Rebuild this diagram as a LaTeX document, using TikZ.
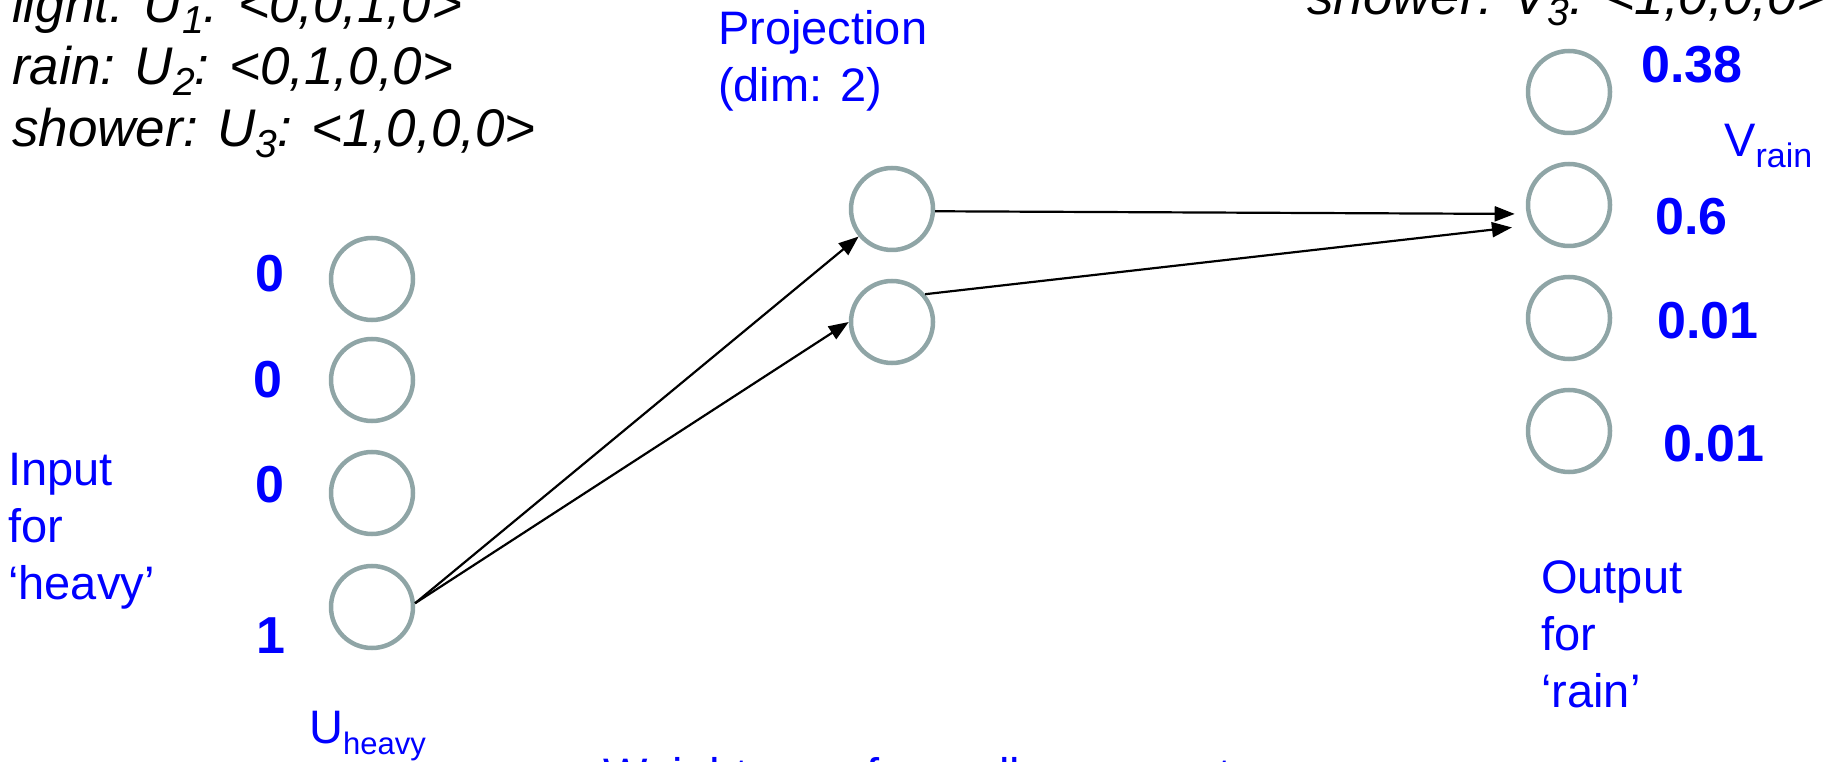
\documentclass[tikz,border=0pt]{standalone}
\usepackage{fontspec}
\setmainfont{Liberation Sans}
\usetikzlibrary{arrows.meta,positioning}
\definecolor{ringgray}{RGB}{143,165,166}
\definecolor{labelblue}{RGB}{0,0,255}
\newcommand{\subs}[2][34]{\raisebox{-11pt}{\fontsize{#1}{#1}\selectfont #2}}

\begin{document}
\begin{tikzpicture}[
    x=1pt, y=1pt,
    >={Triangle[length=20pt,width=15pt]},
    unit/.style={
      circle, draw=ringgray, line width=4.5pt, minimum size=82pt,
      inner sep=0pt
    },
    lbl/.style={text=labelblue, font=\fontsize{47}{57}\selectfont,
      align=left, inner sep=0pt},
    val/.style={text=labelblue, font=\fontsize{52}{60}\selectfont\bfseries,
      inner sep=0pt},
    vec/.style={font=\fontsize{53}{62}\selectfont\itshape, align=left,
      inner sep=0pt},
    arr/.style={->, line width=2.2pt},
    on grid, node distance=113pt
  ]
  \useasboundingbox (0,0) rectangle (1825,761);

  % input layer
  \node[unit] (i1) at (372,482) {};
  \node[unit, below=101pt of i1] (i2) {};
  \node[unit, below=of i2] (i3) {};
  \node[unit, below=114pt of i3] (i4) {};

  % projection layer
  \node[unit] (p1) at (892,552) {};
  \node[unit, below=of p1] (p2) {};

  % output layer
  \node[unit] (o1) at (1569,669) {};
  \node[unit, below=of o1] (o2) {};
  \node[unit, below=of o2] (o3) {};
  \node[unit, below=of o3] (o4) {};

  % input values
  \node[val] (x1) at (270,487) {0};
  \node[val] (x2) at (268,381) {0};
  \node[val] (x3) at (270,276) {0};
  \node[val] (x4) at (271,125) {1};

  % output values
  \node[val, anchor=base west] (y1) at (1641,678) {0.38};
  \node[val, anchor=base west] (y2) at (1655,526) {0.6};
  \node[val, anchor=base west] (y3) at (1657,422) {0.01};
  \node[val, anchor=base west] (y4) at (1663,299) {0.01};

  % labels
  \node[lbl, anchor=north west] (inlbl) at (8,308) {Input\\for\\‘heavy’};
  \node[lbl, anchor=north west] (projlbl) at (718,751) {Projection\\(dim: 2)};
  \node[lbl, anchor=north west] (outlbl) at (1541,201) {Output\\for\\‘rain’};
  \node[lbl, anchor=base west] (ulbl) at (309,18) {U\subs[31]{heavy}};
  \node[lbl, anchor=base west] (vlbl) at (1724,604) {V\subs[34]{rain}};
  \node[lbl, anchor=base west] (note) at (603,-30)
    {Weights are from all arguments};

  % one-hot vectors (base = last line)
  \node[vec, anchor=base west] (uvec) at (12,614)
    {light: U\subs[39]{1}: <0,0,1,0>\\
     rain: U\subs[39]{2}: <0,1,0,0>\\
     shower: U\subs[39]{3}: <1,0,0,0>};
  \node[vec, anchor=base west] (vvec) at (1307,746)
    {shower: V\subs[39]{3}: <1,0,0,0>};

  \draw[arr] (i4.5) -- (p1);
  \draw[arr] (i4.5) -- (p2.west);
  \draw[arr, shorten >=12pt] (p1.357) -- (o2.192);
  \draw[arr, shorten >=19pt] (p2.40) -- (o2.208);
\end{tikzpicture}
\end{document}
